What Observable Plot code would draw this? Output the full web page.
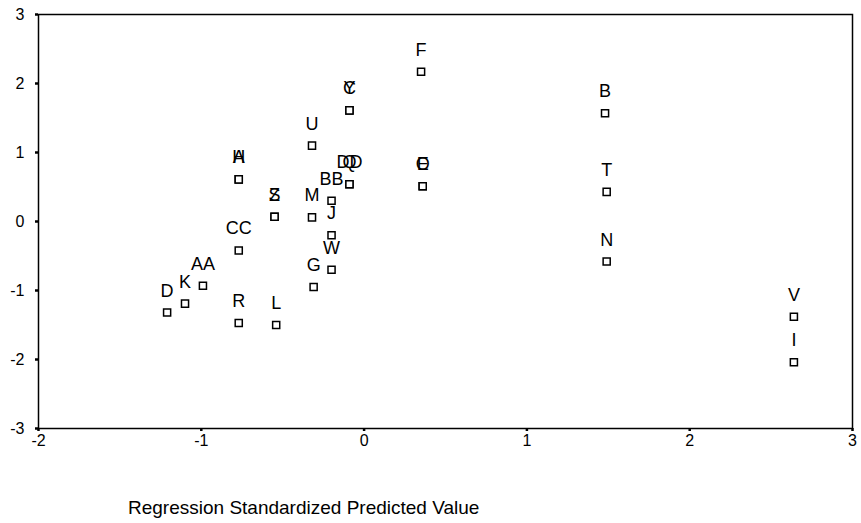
<!DOCTYPE html>
<html>
<head>
<meta charset="utf-8">
<script src="https://cdn.jsdelivr.net/npm/d3@7"></script>
<script src="https://cdn.jsdelivr.net/npm/@observablehq/plot@0.6"></script>
<style>
  body { margin: 0; background: #fff; font-family: "Liberation Sans", Arial, sans-serif; }
  #title { font-size: 19px; color: #000; padding-left: 128px; margin-top: 37px; }
</style>
</head>
<body>
<div id="chart"></div>
<div id="title">Regression Standardized Predicted Value</div>
<script>
const labels = ["F","C","Y","U","A","H","DD","Q","E","O","B","T","N","BB","S","Z","M","J","CC","W","AA","G","K","D","R","L","V","I"];
const predicted = [0.35,-0.09,-0.09,-0.32,-0.77,-0.77,-0.09,-0.09,0.36,0.36,1.48,1.49,1.49,-0.20,-0.55,-0.55,-0.32,-0.20,-0.77,-0.20,-0.99,-0.31,-1.10,-1.21,-0.77,-0.54,2.64,2.64];
const residual = [2.17,1.61,1.61,1.10,0.61,0.61,0.54,0.54,0.51,0.51,1.57,0.43,-0.58,0.30,0.07,0.07,0.06,-0.20,-0.42,-0.70,-0.93,-0.95,-1.19,-1.32,-1.47,-1.50,-1.38,-2.04];
const xTicks = [-2,-1,0,1,2,3];
const yTicks = [-3,-2,-1,0,1,2,3];

const data = labels.map((l, i) => ({label: l, x: predicted[i], y: residual[i]}));

const chart = Plot.plot({
  width: 861,
  height: 460,
  marginLeft: 38,
  marginRight: 9,
  marginTop: 14,
  marginBottom: 32,
  style: {fontFamily: "Liberation Sans, Arial, sans-serif", color: "#000", background: "#fff"},
  x: {domain: [-2, 3], ticks: xTicks, label: null},
  y: {domain: [-3, 3], ticks: yTicks, label: null},
  marks: [
    Plot.frame({stroke: "#000", strokeWidth: 1.5}),
    Plot.axisX({ticks: xTicks, tickSize: 3, tickPadding: 3, strokeWidth: 2.5, fontSize: 16, label: null, tickFormat: d => String(d).replace("−", "-")}),
    Plot.axisY({ticks: yTicks, tickSize: 3, tickPadding: 11, strokeWidth: 2.5, fontSize: 16, label: null, tickFormat: d => String(d).replace("−", "-")}),
    Plot.dot(data, {x: "x", y: "y", symbol: "square", r: 4, stroke: "#000", strokeWidth: 1.5, fill: "#fff"}),
    Plot.text(data, {x: "x", y: "y", text: "label", dy: -16, lineAnchor: "bottom", fontSize: 18, fill: "#000"})
  ]
});
document.getElementById("chart").appendChild(chart);
</script>
</body>
</html>
